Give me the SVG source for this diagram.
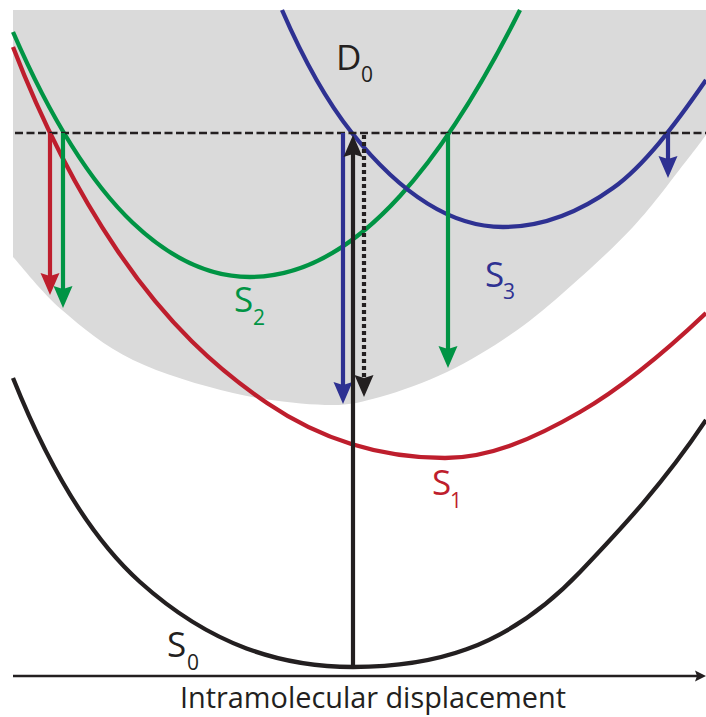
<svg xmlns="http://www.w3.org/2000/svg" width="706" height="717" viewBox="0 0 706 717">
<style>
.curve{fill:none;stroke-width:4.3}
.arr{fill:none;stroke-width:4.2}
.lbl{font-family:"Open Sans","Liberation Sans",sans-serif;font-size:35px}
.sub{font-size:21px}
</style>
<defs>
<marker id="hR" markerUnits="userSpaceOnUse" viewBox="0 -10 23 20" markerWidth="23" markerHeight="20" refX="5" refY="0" orient="auto"><path d="M0,-9.5 L22,0 L0,9.5 L3,0 Z" fill="#be1e2d"/></marker>
<marker id="hG" markerUnits="userSpaceOnUse" viewBox="0 -10 23 20" markerWidth="23" markerHeight="20" refX="5" refY="0" orient="auto"><path d="M0,-9.5 L22,0 L0,9.5 L3,0 Z" fill="#009444"/></marker>
<marker id="hB" markerUnits="userSpaceOnUse" viewBox="0 -10 23 20" markerWidth="23" markerHeight="20" refX="5" refY="0" orient="auto"><path d="M0,-9.5 L22,0 L0,9.5 L3,0 Z" fill="#2e3192"/></marker>
<marker id="hK" markerUnits="userSpaceOnUse" viewBox="0 -10 23 20" markerWidth="23" markerHeight="20" refX="5" refY="0" orient="auto"><path d="M0,-9.5 L22,0 L0,9.5 L3,0 Z" fill="#231f20"/></marker>
<marker id="hAx" markerUnits="userSpaceOnUse" viewBox="0 -6 12 12" markerWidth="12" markerHeight="12" refX="2" refY="0" orient="auto"><path d="M0,-5.5 L11,0 L0,5.5 L2,0 Z" fill="#231f20"/></marker>
</defs>

<g id="region">
<path fill="#dadada" d="M13,10 H706 V135 C702.8,139.2 699.2,144.7 687,160 C674.8,175.3 653.7,204.8 633,227 C612.3,249.2 583.5,275 563,293 C542.5,311 529.3,321.8 510,335 C490.7,348.2 468.7,361.8 447,372 C425.3,382.2 400.3,391.5 380,397 C359.7,402.5 349.5,405.7 325,405 C300.5,404.3 265,400.5 233,393 C201,385.5 161.5,373.8 133,360 C104.5,346.2 82,327.2 62,310 C42,292.8 21.2,265.8 13,257 Z"/>
</g>

<g id="S0">
<path class="curve" stroke="#231f20" d="M13,378 C55.33,483.8 97.67,543.9 140,582 C211,645.9 282,667 353,667 C428.67,667 504.33,651.5 580,572 C622,527.9 664,483 706,420"/>
<text class="lbl" x="167" y="657" fill="#231f20">S<tspan class="sub" x="187" y="670">0</tspan></text>
</g>

<g id="S1">
<path class="curve" stroke="#be1e2d" d="M13,47 C47.67,137.1 82.33,198.7 117,250 C167,324 217,369 267,403 C326.33,443.3 385.67,458 445,458 C490,458 535,438.1 580,412 C622,387.6 664,352.9 706,313"/>
<text class="lbl" x="432" y="495" fill="#be1e2d">S<tspan class="sub" x="450" y="508">1</tspan></text>
</g>

<g id="S2">
<path class="curve" stroke="#009444" d="M13,32 C53,124 93,185 133,223 C172,260 211,277 250,277 C300,277 350,251 400,196 C440,152 480,90 520,10"/>
<text class="lbl" x="234" y="312" fill="#009444">S<tspan class="sub" x="253" y="325">2</tspan></text>
</g>

<g id="S3">
<path class="curve" stroke="#2e3192" d="M282,10 C305.33,63.7 328.67,103.8 352,133 C402.33,195.9 452.67,227 503,227 C539.67,227 576.33,214.4 613,188 C644,165.7 675,125 706,80"/>
<text class="lbl" x="485" y="287" fill="#2e3192">S<tspan class="sub" x="503" y="299">3</tspan></text>
</g>

<g id="D0">
<text class="lbl" x="336" y="70" fill="#231f20">D<tspan class="sub" x="361" y="82">0</tspan></text>
</g>

<g id="connectors">
<line x1="15" y1="133" x2="706" y2="133" stroke="#231f20" stroke-width="2.6" stroke-dasharray="8 3.5"/>
<line class="arr" x1="50" y1="133" x2="50" y2="278" stroke="#be1e2d" marker-end="url(#hR)"/>
<line class="arr" x1="63" y1="133" x2="63" y2="291" stroke="#009444" marker-end="url(#hG)"/>
<line class="arr" x1="448" y1="133" x2="448" y2="351" stroke="#009444" marker-end="url(#hG)"/>
<line class="arr" x1="668" y1="133" x2="668" y2="161" stroke="#2e3192" marker-end="url(#hB)"/>
<line class="arr" x1="343" y1="133" x2="343" y2="387" stroke="#2e3192" marker-end="url(#hB)"/>
<line class="arr" x1="364" y1="135" x2="364" y2="380" stroke="#231f20" stroke-dasharray="4 3" marker-end="url(#hK)"/>
<line class="arr" x1="353" y1="667" x2="353" y2="152" stroke="#231f20" marker-end="url(#hK)"/>
<line x1="13" y1="676" x2="697" y2="676" stroke="#231f20" stroke-width="2.5" marker-end="url(#hAx)"/>
</g>

<text x="373" y="708" text-anchor="middle" font-family="'Open Sans','Liberation Sans',sans-serif" font-size="29" textLength="386" lengthAdjust="spacingAndGlyphs" fill="#231f20">Intramolecular displacement</text>
</svg>
